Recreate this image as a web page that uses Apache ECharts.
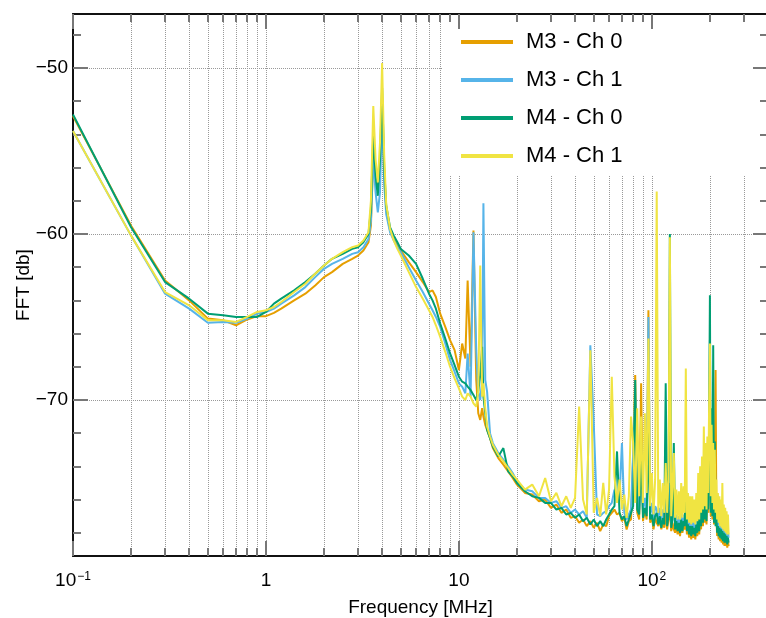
<!DOCTYPE html>
<html><head><meta charset="utf-8">
<script src="https://cdn.jsdelivr.net/npm/echarts@6/dist/echarts.min.js"></script>
<style>html,body{margin:0;padding:0;background:#fff}#c{width:766px;height:618px}</style>
</head><body><div id="c"></div>
<script>
// ---- frequencies (MHz) ----
const freqLow = [
 0.1,0.2,0.3,0.4,0.5,0.6,0.7,0.8,0.9,1.0,
 1.1,1.2,1.4,1.6,1.8,2.0,2.2,2.5,2.8,3.0,
 3.2,3.4,3.5,3.6,3.7,3.8,3.9,4.0,4.1,4.2,
 4.4,4.6,4.8,5.0,5.5,6.0,6.5,7.0,7.3,7.6,
 8.0,8.5,9.0,9.5,10.0,10.4,10.8,11.1,11.5,11.9,
 12.3,12.6,12.9,13.2,13.4,13.7,14.0,14.5,15,16,
 17,18,19
];
const freqHigh = [
 20,22,24,26,28,30,32,34,36,38,
 40,42,44,46,48,50,52,54,56,58,
 60,62,64,66,68,70,72,74,76,78,
 80,82,84,86,88,90,92,94,96,98,
 100,102,104,106,108,110,112,114,116,118,
 120,122,124,126,128,130,132,134,136,138,
 140,142,144,146,148,150,152,154,156,158,
 160,162,164,166,168,170,172,174,176,178,
 180,182,184,186,188,190,192,194,196,198,
 200,202,204,206,208,210,212,214,216,218,
 220,222,224,226,228,230,232,234,236,238,
 240,242,244,246,248,250
];

// ---- M3 - Ch 0 (dB) ----
const m3ch0Low = [
 -52.9,-59.5,-62.8,-64.0,-65.1,-65.2,-65.5,-65.15,-64.95,-64.95,
 -64.75,-64.5,-64.0,-63.6,-63.1,-62.6,-62.3,-61.8,-61.5,-61.3,
 -61.0,-60.5,-59.5,-55.1,-56.8,-57.3,-55.8,-51.8,-56.5,-58.5,
 -59.8,-60.3,-60.7,-61.0,-61.7,-62.3,-62.9,-63.5,-63.4,-63.8,
 -64.8,-65.6,-66.4,-67.0,-68.2,-66.6,-67.5,-62.8,-68.0,-59.8,
 -68.8,-70.8,-71.2,-70.5,-71.0,-71.5,-71.5,-72.3,-72.9,-73.5,
 -73.9,-74.3,-74.7
];
const m3ch0High = [
 -75.1,-75.6,-75.7,-76.1,-76.0,-76.5,-76.3,-76.8,-76.6,-77.1,
 -77.0,-77.4,-77.2,-77.6,-77.3,-77.7,-77.4,-77.9,-77.5,-77.6,
 -77.0,-76.8,-76.6,-76.9,-76.8,-77.3,-77.1,-77.8,-77.3,-77.2,
 -73.5,-68.5,-76.8,-77.2,-69.0,-77.3,-76.6,-77.2,-64.6,-77.4,
 -77.0,-77.8,-77.1,-77.4,-77.6,-77.2,-77.8,-77.3,-77.7,-76.8,
 -77.8,-77.2,-76.6,-77.9,-77.4,-77.8,-78.0,-77.5,-78.1,-77.6,
 -78.2,-77.4,-78.0,-77.5,-77.8,-76.8,-78.1,-77.7,-78.3,-77.8,
 -78.4,-77.8,-78.3,-77.9,-78.4,-77.7,-78.2,-77.2,-78.1,-77.0,
 -77.8,-76.0,-77.6,-76.2,-77.4,-75.6,-77.5,-75.6,-76.8,-74.0,
 -70.0,-77.0,-73.0,-77.2,-74.0,-77.5,-73.9,-68.2,-77.0,-78.2,
 -77.8,-78.4,-77.9,-78.5,-78.0,-78.6,-78.1,-78.7,-78.2,-78.8,
 -78.3,-78.8,-78.4,-78.9,-78.5,-78.8
];

// ---- M3 - Ch 1 (dB) ----
const m3ch1Low = [
 -53.8,-60.1,-63.6,-64.5,-65.35,-65.3,-65.35,-65.1,-64.8,-64.7,
 -64.5,-64.2,-63.7,-63.2,-62.6,-62.1,-61.8,-61.5,-61.2,-61.1,
 -60.8,-60.3,-59.2,-55.5,-57.5,-58.7,-57.5,-52.5,-57.0,-58.8,
 -59.9,-60.4,-60.8,-61.1,-62.0,-62.8,-63.5,-64.2,-64.6,-65.0,
 -65.6,-66.6,-67.6,-68.3,-69.0,-69.2,-69.6,-67.2,-69.8,-59.9,
 -67.0,-69.5,-70.0,-68.8,-58.15,-68.8,-69.5,-72.0,-72.6,-73.2,
 -73.6,-74.0,-74.4
];
const m3ch1High = [
 -74.9,-75.4,-75.5,-75.9,-75.9,-76.2,-76.1,-76.5,-76.4,-76.8,
 -76.6,-76.9,-76.7,-77.1,-66.7,-71.4,-76.9,-77.0,-76.8,-76.7,
 -76.4,-76.2,-75.4,-75.9,-75.8,-72.6,-76.8,-77.2,-76.9,-76.6,
 -73.2,-70.0,-75.8,-76.6,-72.5,-76.7,-75.9,-76.8,-65.0,-76.9,
 -76.2,-77.3,-76.4,-76.6,-77.1,-76.5,-77.2,-76.6,-77.1,-75.0,
 -77.3,-76.6,-75.0,-77.4,-76.8,-76.2,-77.5,-76.9,-77.6,-77.0,
 -77.7,-76.8,-77.6,-76.9,-77.3,-74.9,-77.6,-77.1,-77.8,-77.2,
 -77.9,-77.2,-77.8,-77.3,-77.9,-77.1,-77.7,-76.4,-77.6,-76.2,
 -77.2,-75.2,-77.0,-75.4,-76.8,-74.6,-76.9,-74.8,-76.2,-71.8,
 -66.4,-76.4,-72.8,-76.6,-73.5,-77.0,-73.4,-77.2,-76.4,-77.7,
 -77.2,-77.9,-77.3,-78.0,-77.4,-78.1,-77.5,-78.2,-77.6,-78.3,
 -77.7,-78.3,-77.8,-78.4,-77.9,-78.3
];

// ---- M4 - Ch 0 (dB) ----
const m4ch0Low = [
 -52.8,-59.6,-62.9,-63.9,-64.8,-64.9,-65.0,-65.0,-65.0,-64.7,
 -64.2,-63.9,-63.4,-62.9,-62.4,-61.9,-61.5,-61.2,-60.9,-60.8,
 -60.5,-60.0,-58.5,-54.0,-56.5,-57.7,-55.5,-51.2,-56.0,-58.3,
 -59.6,-60.1,-60.5,-60.9,-61.3,-61.8,-62.7,-63.6,-64.0,-64.5,
 -65.4,-66.3,-67.2,-67.9,-68.6,-68.9,-69.0,-69.2,-69.4,-69.7,
 -70.0,-69.5,-68.5,-66.8,-69.8,-70.8,-71.8,-72.3,-72.8,-73.4,
 -72.9,-74.3,-74.6
];
const m4ch0High = [
 -75.0,-75.5,-75.8,-75.9,-76.2,-76.2,-76.6,-76.5,-76.9,-76.8,
 -77.1,-76.9,-77.3,-77.1,-77.5,-77.2,-77.6,-77.3,-77.6,-77.2,
 -76.9,-76.6,-76.4,-73.1,-76.8,-77.2,-77.0,-77.6,-77.2,-76.8,
 -76.4,-68.8,-76.6,-76.9,-73.5,-77.1,-76.5,-77.0,-72.0,-77.2,
 -76.9,-77.6,-77.0,-76.8,-77.5,-77.0,-77.7,-77.1,-77.5,-69.0,
 -77.6,-77.0,-60.0,-77.7,-77.2,-72.6,-77.8,-77.3,-77.9,-77.4,
 -78.0,-77.2,-77.9,-77.3,-77.6,-74.8,-77.9,-77.5,-78.1,-77.6,
 -78.2,-77.6,-78.1,-77.7,-78.2,-77.5,-78.0,-76.8,-77.9,-76.6,
 -77.6,-75.6,-77.4,-75.8,-77.2,-75.0,-77.3,-75.2,-76.6,-72.2,
 -63.7,-76.8,-70.5,-77.0,-66.7,-77.4,-72.5,-77.6,-76.8,-78.0,
 -77.6,-78.2,-77.7,-78.3,-77.8,-78.4,-77.9,-78.5,-78.0,-78.6,
 -78.1,-78.6,-78.2,-78.7,-78.3,-78.6
];

// ---- M4 - Ch 1 (dB) ----
const m4ch1Low = [
 -53.8,-60.1,-63.5,-64.3,-65.2,-65.2,-65.3,-65.0,-64.7,-64.6,
 -64.4,-64.1,-63.5,-63.0,-62.4,-61.9,-61.5,-61.1,-60.8,-60.7,
 -60.4,-59.9,-58.0,-52.3,-55.5,-56.9,-54.5,-49.7,-55.2,-58.2,
 -59.7,-60.4,-60.9,-61.3,-62.3,-63.2,-63.9,-64.6,-65.0,-65.5,
 -66.2,-67.1,-68.0,-68.7,-69.3,-69.8,-70.0,-69.6,-69.8,-70.2,
 -70.4,-69.5,-61.9,-69.8,-69.0,-70.5,-71.6,-72.2,-72.7,-73.3,
 -73.7,-74.1,-74.5
];
const m4ch1High = [
 -74.8,-75.4,-75.1,-75.8,-74.7,-76.1,-75.6,-76.4,-75.8,-76.5,
 -75.9,-70.4,-76.0,-76.9,-67.0,-76.8,-75.9,-77.0,-75.0,-76.9,
 -75.4,-68.6,-74.6,-76.2,-74.8,-76.6,-75.7,-77.1,-75.8,-71.0,
 -72.6,-76.2,-70.5,-75.8,-71.0,-76.2,-70.8,-75.6,-66.3,-76.4,
 -74.4,-76.9,-74.8,-57.45,-76.8,-74.8,-77.0,-75.0,-76.8,-73.8,
 -76.8,-74.8,-60.2,-77.0,-75.2,-73.2,-77.1,-75.4,-77.2,-75.5,
 -77.2,-75.0,-77.1,-75.2,-76.8,-68.1,-77.2,-75.6,-77.4,-75.8,
 -77.5,-75.8,-77.4,-76.0,-77.5,-75.6,-77.3,-74.4,-77.2,-74.0,
 -76.8,-73.4,-76.6,-71.6,-76.4,-72.6,-76.6,-72.2,-75.6,-70.5,
 -66.6,-75.8,-71.5,-76.2,-72.6,-76.6,-73.0,-76.8,-74.8,-77.2,
 -75.6,-77.4,-75.8,-77.6,-76.0,-77.7,-75.0,-77.8,-76.3,-77.9,
 -76.5,-78.0,-76.7,-78.1,-76.9,-78.1
];

// ---- series names, ticks ----
const seriesNames = ['M3 - Ch 0','M3 - Ch 1','M4 - Ch 0','M4 - Ch 1'];
const seriesColors = ['#E69F00','#56B4E9','#009E73','#F0E442'];
const xMajor = [0.1, 1, 10, 100];
const xMinor = [0.2,0.3,0.4,0.5,0.6,0.7,0.8,0.9,2,3,4,5,6,7,8,9,20,30,40,50,60,70,80,90,200,300];
const yMajor = [-70, -60, -50];
const yMinor = [-78,-76,-74,-72,-68,-66,-64,-62,-58,-56,-54,-52,-48];
const X_MIN = 0.1, X_MAX = 400, Y_MIN = -79.4, Y_MAX = -46.75;

const FONT = '"Liberation Sans", Arial, Helvetica, sans-serif';
const freq = freqLow.concat(freqHigh);
const values = [
  m3ch0Low.concat(m3ch0High),
  m3ch1Low.concat(m3ch1High),
  m4ch0Low.concat(m4ch0High),
  m4ch1Low.concat(m4ch1High)
];

const tickStyle = {color:'#777', width:2};
const gridLineStyle = {type:'dotted', color:'#999', width:1};
const frameStyle = {color:'#111', width:2};

function xAxisDef(pos, values, len, withLine, withSplit, z) {
  return {
    type:'log', logBase:10, min:X_MIN, max:X_MAX, position:pos, z:z,
    axisLine:{show:withLine, onZero:false, lineStyle:frameStyle},
    axisTick:{show:true, inside:true, length:len, customValues:values, lineStyle:tickStyle},
    axisLabel:{show:false},
    splitLine:{show:withSplit, lineStyle:gridLineStyle},
    minorTick:{show:false}, minorSplitLine:{show:false}
  };
}
function yAxisDef(pos, values, len, withLine, withSplit, z) {
  return {
    type:'value', min:Y_MIN, max:Y_MAX, position:pos, z:z,
    axisLine:{show:withLine, onZero:false, lineStyle:frameStyle},
    axisTick:{show:true, inside:true, length:len, customValues:values, lineStyle:tickStyle},
    axisLabel:{show:false},
    splitLine:{show:withSplit, lineStyle:gridLineStyle},
    minorTick:{show:false}, minorSplitLine:{show:false}
  };
}

const xMain = xAxisDef('bottom', xMajor, 15, true, true, 0);
xMain.axisLabel = {
  show:true, customValues:xMajor, margin:15, color:'#000',
  fontFamily:FONT, fontSize:19,
  formatter:function(v){
    if (Math.abs(v - 0.1) < 1e-9) return '10{sup|\u22121}';
    if (Math.abs(v - 100) < 1e-6) return '10{sup|2}';
    return String(Math.round(v));
  },
  rich:{ sup:{fontSize:12, fontFamily:FONT, color:'#000', verticalAlign:'top', padding:[0,0,0,1]} }
};
xMain.name = 'Frequency [MHz]';
xMain.nameLocation = 'middle';
xMain.nameGap = 42;
xMain.nameMoveOverlap = false;
xMain.nameTextStyle = {fontFamily:FONT, fontSize:19, color:'#000'};

const yMain = yAxisDef('left', yMajor, 15, true, true, 0);
yMain.axisLabel = {
  show:true, customValues:yMajor, margin:5, color:'#000',
  fontFamily:FONT, fontSize:19,
  formatter:function(v){ return v < 0 ? '\u2212' + Math.abs(v) : String(v); }
};
yMain.name = 'FFT [db]';
yMain.nameLocation = 'middle';
yMain.nameGap = 40;
yMain.nameMoveOverlap = false;
yMain.nameTextStyle = {fontFamily:FONT, fontSize:19, color:'#000'};

const option = {
  animation:false,
  backgroundColor:'#fff',
  grid:{left:73, top:14, width:695, height:542, containLabel:false, outerBoundsMode:'none'},
  xAxis:[
    xMain,
    xAxisDef('bottom', xMinor, 8, false, true, 0),
    xAxisDef('top', xMajor, 15, true, false, 5),
    xAxisDef('top', xMinor, 8, false, false, 5)
  ],
  yAxis:[
    yMain,
    yAxisDef('left', yMinor, 8, false, false, 0),
    yAxisDef('right', yMajor, 15, false, false, 5),
    yAxisDef('right', yMinor, 8, false, false, 5)
  ],
  legend:{
    show:true, orient:'vertical', left:443, top:14, z:4,
    backgroundColor:'#fff', padding:[17,150,8,18],
    itemWidth:52, itemHeight:4, itemGap:16, icon:'rect',
    textStyle:{fontFamily:FONT, fontSize:22, color:'#000', padding:[0,0,0,8]},
    data:seriesNames
  },
  series: seriesNames.map(function(name, k){
    return {
      name:name, type:'line', xAxisIndex:0, yAxisIndex:0,
      data: freq.map(function(f, i){ return [f, values[k][i]]; }),
      showSymbol:false, symbol:'none', clip:true,
      lineStyle:{color:seriesColors[k], width:2},
      itemStyle:{color:seriesColors[k]},
      emphasis:{disabled:true}
    };
  })
};

const chart = echarts.init(document.getElementById('c'), null, {renderer:'canvas'});
chart.setOption(option);
</script>
</body></html>
